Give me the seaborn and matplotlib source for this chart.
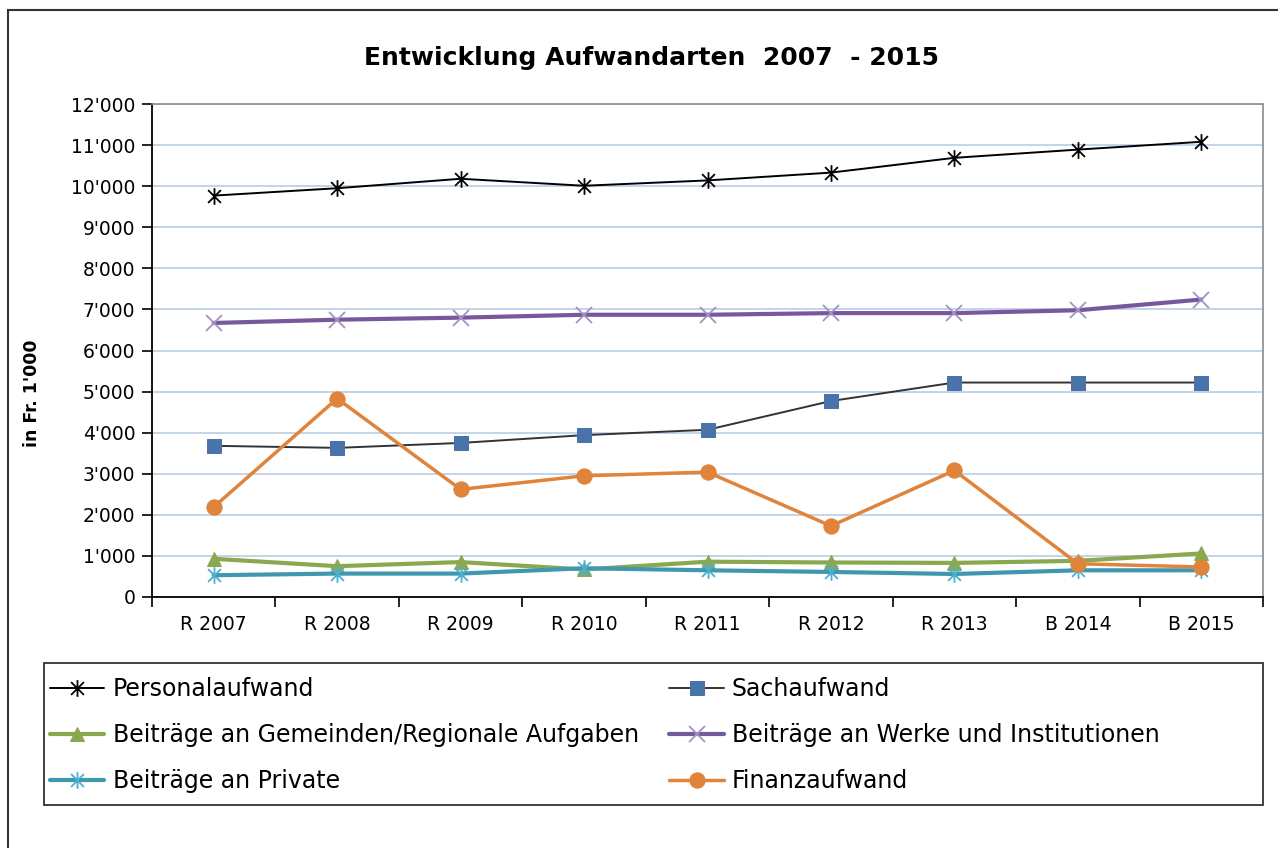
import numpy as np
import pandas as pd
import matplotlib
matplotlib.use("Agg")
import matplotlib.pyplot as plt
import seaborn as sns
from matplotlib.path import Path
from matplotlib.patches import Rectangle
from matplotlib.ticker import FuncFormatter, FixedLocator

# data (in Fr. 1'000)
years = ["R 2007", "R 2008", "R 2009", "R 2010", "R 2011", "R 2012", "R 2013", "B 2014", "B 2015"]
personalaufwand = [9770, 9950, 10180, 10010, 10140, 10330, 10690, 10890, 11080]
sachaufwand = [3680, 3630, 3750, 3940, 4070, 4770, 5220, 5220, 5220]
beitr_gemeinden = [930, 750, 850, 670, 860, 840, 830, 880, 1060]
beitr_werke = [6670, 6750, 6800, 6870, 6870, 6910, 6910, 6980, 7240]
beitr_private = [530, 570, 570, 700, 650, 610, 560, 650, 650]
finanzaufwand = [2190, 4830, 2620, 2950, 3040, 1730, 3080, 810, 730]

sns.set_theme(style="white")
plt.rcParams['font.family'] = ['DejaVu Sans']
plt.rcParams['text.color'] = 'black'
plt.rcParams['xtick.color'] = 'black'
plt.rcParams['ytick.color'] = 'black'
plt.rcParams['axes.labelcolor'] = 'black'

# Excel style star marker: x with vertical bar
star = Path([(-1, -1), (1, 1), (-1, 1), (1, -1), (0, -1.3), (0, 1.3)],
            [Path.MOVETO, Path.LINETO, Path.MOVETO, Path.LINETO, Path.MOVETO, Path.LINETO])

series = [
    ("Personalaufwand", personalaufwand, dict(color="black", lw=1.4, marker=star, ms=12, mec="black", mew=1.3)),
    ("Beiträge an Gemeinden/Regionale Aufgaben", beitr_gemeinden, dict(color="#8aa84f", lw=3, marker="^", ms=10, mec="#8aa84f", mfc="#8aa84f")),
    ("Beiträge an Private", beitr_private, dict(color="#3f98b0", lw=3, marker=star, ms=12, mec="#4ab0cf", mew=1.3)),
    ("Sachaufwand", sachaufwand, dict(color="#333333", lw=1.4, marker="s", ms=10, mec="#4a73aa", mfc="#4a73aa")),
    ("Beiträge an Werke und Institutionen", beitr_werke, dict(color="#76599c", lw=3, marker="x", ms=12, mec="#a592c4", mew=1.3)),
    ("Finanzaufwand", finanzaufwand, dict(color="#e0843b", lw=2.5, marker="o", ms=11, mec="#e0843b", mfc="#e0843b")),
]

fig = plt.figure(figsize=(12.78, 8.48), dpi=100)
ax = fig.add_axes([152 / 1278, 1 - 597 / 848, (1263 - 152) / 1278, (597 - 104) / 848])

# drawing order: low lines first so orange and markers sit on top
draw_order = [0, 4, 3, 1, 2, 5]
for i in draw_order:
    name, vals, kw = series[i]
    df = pd.DataFrame({"Jahr": years, "Wert": vals})
    sns.lineplot(data=df, x="Jahr", y="Wert", ax=ax, sort=False, label=name, **kw)

ax.set_xlim(-0.5, len(years) - 0.5)
ax.set_ylim(0, 12000)
ax.set_yticks(np.arange(0, 12001, 1000))
ax.yaxis.set_major_formatter(FuncFormatter(lambda v, p: f"{v:,.0f}".replace(",", "'")))
ax.xaxis.set_minor_locator(FixedLocator(np.arange(-0.5, len(years), 1.0)))
ax.tick_params(axis="x", which="major", length=0, pad=13, labelsize=13.5, colors="black")
ax.tick_params(axis="x", which="minor", length=7, width=1.2, color="black", direction="out", bottom=True)
ax.tick_params(axis="y", which="major", length=7, width=1.2, color="black", direction="out", left=True,
               pad=5, labelsize=13.5, labelcolor="black")
ax.set_xlabel("")
ax.set_ylabel("")

ax.grid(axis="y", color="#b9cde5", lw=1.2)
ax.grid(axis="x", visible=False)
ax.set_axisbelow(True)
for s in ["left", "bottom"]:
    ax.spines[s].set_color("black")
    ax.spines[s].set_linewidth(1.3)
for s in ["top", "right"]:
    ax.spines[s].set_color("#8c8c8c")
    ax.spines[s].set_linewidth(1.2)

fig.text(652 / 1278, 1 - 58 / 848, "Entwicklung Aufwandarten  2007  - 2015",
         ha="center", va="center", fontsize=18, fontweight="bold", color="black")
fig.text(32 / 1278, 1 - 393 / 848, "in Fr. 1'000", rotation=90,
         ha="center", va="center", fontsize=12.5, fontweight="bold", color="black")

# legend, entries ordered column-wise so rows read like the reference
handles, labels = ax.get_legend_handles_labels()
lookup = dict(zip(labels, handles))
names = [s[0] for s in series]
ax.legend([lookup[n] for n in names], names, ncol=2, loc="upper left",
          bbox_to_anchor=(50 / 1278, 1 - 677 / 848), bbox_transform=fig.transFigure,
          frameon=False, fontsize=17, handlelength=2.3, handletextpad=0.35,
          columnspacing=1.3, labelspacing=0.93, borderpad=0, borderaxespad=0,
          labelcolor="black")

fig.patches.append(Rectangle((44 / 1278, 1 - 805 / 848), (1263 - 44) / 1278, (805 - 663) / 848,
                             transform=fig.transFigure, fill=False, edgecolor="#333333", lw=1.3))
fig.patches.append(Rectangle((8 / 1278, -0.1), 1.2, 1.1 - 10 / 848,
                             transform=fig.transFigure, fill=False, edgecolor="#333333", lw=1.5))

fig.savefig("out.png", dpi=100)
